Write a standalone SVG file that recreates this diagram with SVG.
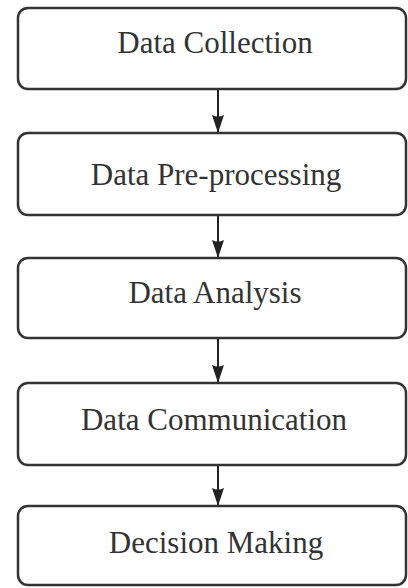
<svg xmlns="http://www.w3.org/2000/svg" width="408" height="588" viewBox="0 0 408 588">
  <style>
    .box { fill: #ffffff; stroke: #333333; stroke-width: 2.5; }
    .label { font-family: "Liberation Serif", "Times New Roman", serif; font-size: 31px; fill: #333333; text-anchor: middle; }
    .link { stroke: #222222; stroke-width: 2; fill: none; }
  </style>
  <defs>
    <!-- filled arrowhead with a slightly concave back; tip sits on the line end -->
    <marker id="arrow" markerWidth="18" markerHeight="12" refX="18" refY="6" orient="auto" markerUnits="userSpaceOnUse" viewBox="0 0 18 12">
      <path d="M0,0 Q3,6 0,12 L18,6 Z" fill="#222222"/>
    </marker>
  </defs>
  <rect width="408" height="588" fill="#ffffff"/>

  <g id="connectors">
    <line class="link" x1="218" y1="90" x2="218" y2="133" marker-end="url(#arrow)"/>
    <line class="link" x1="218" y1="216" x2="218" y2="258" marker-end="url(#arrow)"/>
    <line class="link" x1="218" y1="339" x2="218" y2="383" marker-end="url(#arrow)"/>
    <line class="link" x1="218" y1="466" x2="218" y2="506" marker-end="url(#arrow)"/>
  </g>

  <g id="node-collection">
    <rect class="box" x="18" y="8" width="388" height="81" rx="10"/>
    <text class="label" x="215" y="53">Data Collection</text>
  </g>
  <g id="node-preprocessing">
    <rect class="box" x="18" y="133" width="388" height="82" rx="10"/>
    <text class="label" x="216" y="185">Data Pre-processing</text>
  </g>
  <g id="node-analysis">
    <rect class="box" x="18" y="258" width="388" height="80" rx="10"/>
    <text class="label" x="215" y="303">Data Analysis</text>
  </g>
  <g id="node-communication">
    <rect class="box" x="18" y="383" width="388" height="82" rx="10"/>
    <text class="label" x="214" y="430">Data Communication</text>
  </g>
  <g id="node-decision">
    <rect class="box" x="18" y="506" width="388" height="79" rx="10"/>
    <text class="label" x="216" y="553">Decision Making</text>
  </g>
</svg>
